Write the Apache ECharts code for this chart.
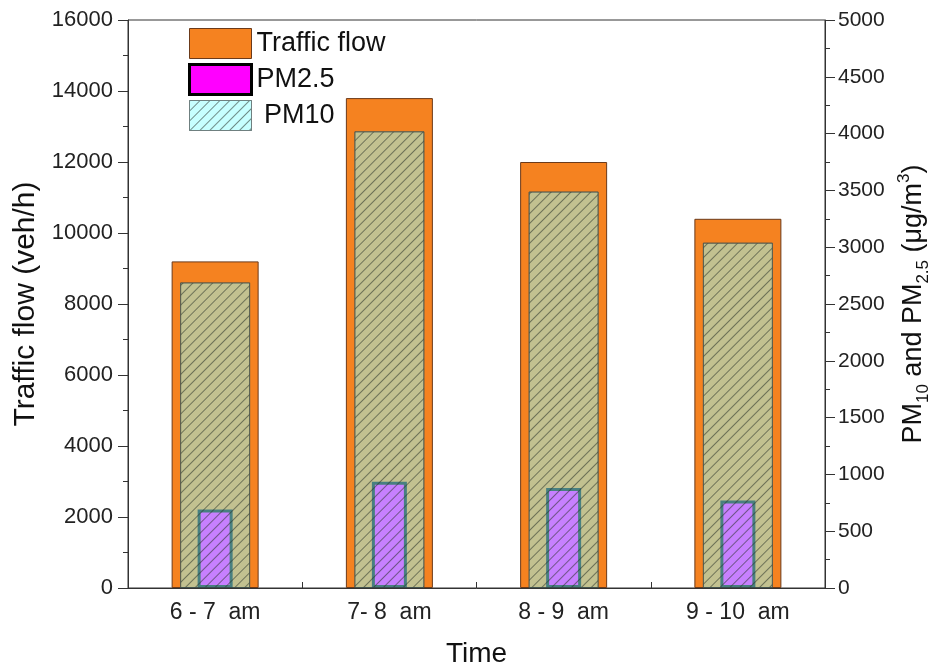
<!DOCTYPE html>
<html>
<head>
<meta charset="utf-8">
<script src="https://cdn.jsdelivr.net/npm/echarts@6/dist/echarts.min.js"></script>
<style>
html,body{margin:0;padding:0;background:#fff;}
#chart{width:933px;height:670px;}
</style>
</head>
<body>
<div id="chart"></div>
<script>
var categories = ['6 - 7  am', '7- 8  am', '8 - 9  am', '9 - 10  am'];
var trafficFlow = [9200, 13800, 12000, 10400];
var pm10 = [2690, 4020, 3490, 3040];
var pm25 = [690, 935, 880, 770];
var leftTicks = {min: 0, max: 16000, interval: 2000};
var rightTicks = {min: 0, max: 5000, interval: 500};

var FONT = '"Liberation Sans", Arial, sans-serif';
var AX = '#333';

var chart = echarts.init(document.getElementById('chart'), null, {renderer: 'canvas'});

var hatch = {
  symbol: 'rect',
  symbolSize: 1,
  dashArrayX: [1, 0],
  dashArrayY: [1, 6],
  rotation: -Math.PI / 4,
  color: 'rgba(40,50,40,0.55)'
};

function plain(v) { return String(v); }

var option = {
  backgroundColor: '#fff',
  animation: false,
  grid: {
    left: 128, right: 108, top: 20, bottom: 82,
    containLabel: false, outerBoundsMode: 'none',
    show: true, borderColor: AX, borderWidth: 1, backgroundColor: 'transparent'
  },
  legend: {
    orient: 'vertical', left: 183, top: 23,
    itemWidth: 62, itemHeight: 30, itemGap: 4,
    icon: 'rect',
    textStyle: {fontFamily: FONT, fontSize: 27, color: '#111'},
    data: [
      {name: 'Traffic flow', itemStyle: {color: '#F58220', borderColor: '#6b3a1a', borderWidth: 1}},
      {name: 'PM2.5', itemStyle: {color: '#FF00FF', borderColor: '#000', borderWidth: 3}},
      {name: ' PM10', itemStyle: {borderColor: '#6f8080', borderWidth: 1}}
    ]
  },
  xAxis: [
    {
      type: 'category', data: categories, gridIndex: 0,
      name: 'Time', nameLocation: 'middle', nameGap: 52,
      nameTextStyle: {fontFamily: FONT, fontSize: 28, color: '#111'},
      axisLine: {lineStyle: {color: AX, width: 1}},
      axisTick: {alignWithLabel: true, length: 10, lineStyle: {color: AX}},
      axisLabel: {fontFamily: FONT, fontSize: 23, color: '#222', margin: 13}
    },
    {
      type: 'category', data: categories, gridIndex: 0,
      axisLine: {show: false},
      axisTick: {show: true, length: 6, lineStyle: {color: AX}},
      axisLabel: {show: false}
    },
    {
      type: 'category', data: categories, gridIndex: 0,
      axisLine: {show: false}, axisTick: {show: false}, axisLabel: {show: false}
    }
  ],
  yAxis: [
    {
      type: 'value', position: 'left',
      min: leftTicks.min, max: leftTicks.max, interval: leftTicks.interval,
      name: 'Traffic flow (veh/h)', nameLocation: 'middle', nameGap: 82,
      nameTextStyle: {fontFamily: FONT, fontSize: 30, color: '#111'},
      axisLine: {show: true, lineStyle: {color: AX}},
      axisTick: {show: true, length: 10, lineStyle: {color: AX}},
      minorTick: {show: true, splitNumber: 2, length: 5, lineStyle: {color: AX}},
      splitLine: {show: false},
      axisLabel: {fontFamily: FONT, fontSize: 22, color: '#222', margin: 15, formatter: plain}
    },
    {
      type: 'value', position: 'right',
      min: rightTicks.min, max: rightTicks.max, interval: rightTicks.interval,
      name: '{a|PM}{s|10}{a| and PM}{s|2.5}{a| (μg/m}{p|3}{a|)}',
      nameLocation: 'middle', nameGap: 70,
      nameTextStyle: {
        fontFamily: FONT, fontSize: 27, color: '#111',
        rich: {
          a: {fontFamily: FONT, fontSize: 27, color: '#111', lineHeight: 36, verticalAlign: 'middle'},
          s: {fontFamily: FONT, fontSize: 17, color: '#111', lineHeight: 17, verticalAlign: 'bottom'},
          p: {fontFamily: FONT, fontSize: 17, color: '#111', lineHeight: 17, verticalAlign: 'top'}
        }
      },
      axisLine: {show: true, lineStyle: {color: AX}},
      axisTick: {show: true, length: 10, lineStyle: {color: AX}},
      minorTick: {show: true, splitNumber: 2, length: 5, lineStyle: {color: AX}},
      splitLine: {show: false},
      axisLabel: {fontFamily: FONT, fontSize: 21, color: '#222', margin: 13, formatter: plain}
    }
  ],
  series: [
    {
      name: 'Traffic flow', type: 'bar', xAxisIndex: 0, yAxisIndex: 0,
      data: trafficFlow, barWidth: 87,
      itemStyle: {color: '#F58220', borderColor: '#6b3a1a', borderWidth: 1}
    },
    {
      name: 'PM2.5', type: 'bar', xAxisIndex: 1, yAxisIndex: 1,
      data: pm25, barWidth: 35,
      itemStyle: {color: '#FF00FF', borderColor: '#000', borderWidth: 3}
    },
    {
      name: ' PM10', type: 'bar', xAxisIndex: 2, yAxisIndex: 1,
      data: pm10, barWidth: 70,
      itemStyle: {color: 'rgba(144,255,255,0.5)', borderColor: 'rgba(60,80,80,0.6)', borderWidth: 1, decal: hatch}
    }
  ]
};
chart.setOption(option);
</script>
</body>
</html>
